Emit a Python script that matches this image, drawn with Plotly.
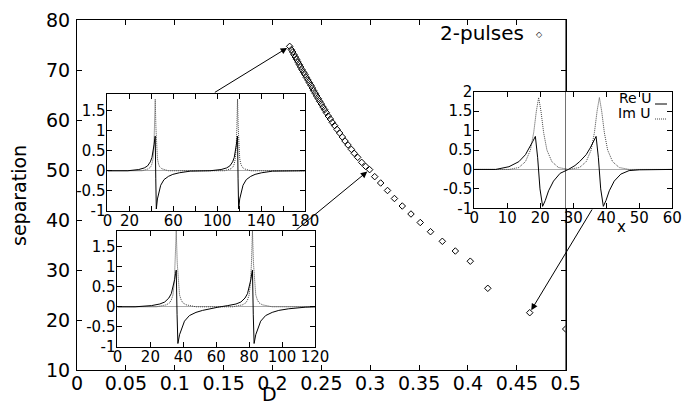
import plotly.graph_objects as go

# ---------------- main data: separation vs D (2-pulse solutions) ----------------
D_vals = [0.2176, 0.2193, 0.2207, 0.2220, 0.2234, 0.2247, 0.2261, 0.2275, 0.2288, 0.2302,
          0.2319, 0.2333, 0.2346, 0.2363, 0.2377, 0.2394, 0.2408, 0.2421, 0.2438, 0.2452,
          0.2469, 0.2483, 0.2500, 0.2517, 0.2534, 0.2551, 0.2571, 0.2592, 0.2612, 0.2636,
          0.2660, 0.2687, 0.2715, 0.2742, 0.2773, 0.2807, 0.2837, 0.2872, 0.2913, 0.2953,
          0.2994, 0.3046, 0.3107, 0.3177, 0.3248, 0.3328, 0.3417, 0.3512, 0.3617, 0.3738,
          0.3871, 0.4024, 0.4203, 0.4632, 0.5000]
sep_vals = [74.73, 74.07, 73.60, 73.07, 72.60, 72.13, 71.60, 71.07, 70.60, 70.07,
            69.53, 69.07, 68.53, 68.00, 67.47, 66.93, 66.40, 65.87, 65.33, 64.80,
            64.27, 63.73, 63.20, 62.60, 62.07, 61.47, 60.80, 60.20, 59.53, 58.87,
            58.13, 57.40, 56.60, 55.80, 55.00, 54.13, 53.33, 52.53, 51.53, 50.73,
            50.07, 48.67, 47.40, 45.90, 44.30, 42.80, 41.20, 39.50, 37.66, 35.74,
            33.80, 31.76, 26.34, 21.46, 18.20]
main_xticks = [0, 0.05, 0.1, 0.15, 0.2, 0.25, 0.3, 0.35, 0.4, 0.45, 0.5]
main_xticktext = ["0", "0.05", "0.1", "0.15", "0.2", "0.25", "0.3", "0.35", "0.4", "0.45", "0.5"]
main_yticks = [10, 20, 30, 40, 50, 60, 70, 80]

# indices of the points the inset arrows point to
arrow_targets = [0, 40, 53]

# ---------------- inset 1 (separation ~75) ----------------
in1_re_x = [0, 18.5, 28.5, 33.5, 36.5, 39, 40.5, 41.7, 42.5, 43.1, 43.5, 44, 44.5, 45.5, 47, 48.5,
            51.5, 55.5, 59.5, 65.5, 75.5,
            93.5, 103.5, 108.5, 111.5, 114, 115.5, 116.7, 117.5, 118.1, 118.5, 119, 119.5, 120.5,
            122, 123.5, 126.5, 130.5, 134.5, 140.5, 150.5, 180]
in1_re_y = [0, 0, 0.03, 0.07, 0.12, 0.22, 0.33, 0.5, 0.66, 0.8, 0.86, -0.2, -0.95, -0.7, -0.5, -0.36,
            -0.22, -0.14, -0.09, -0.05, -0.01,
            0, 0.03, 0.07, 0.12, 0.22, 0.33, 0.5, 0.66, 0.8, 0.86, -0.2, -0.95, -0.7,
            -0.5, -0.36, -0.22, -0.14, -0.09, -0.05, -0.01, 0]
in1_im_x = [0, 31.5, 37.5, 39.5, 40.5, 41.5, 42.3, 42.9, 43.5, 44.1, 44.7, 45.5, 46.5, 47.5, 49.5, 55.5,
            106.5, 112.5, 114.5, 115.5, 116.5, 117.3, 117.9, 118.5, 119.1, 119.7, 120.5, 121.5,
            122.5, 124.5, 130.5, 180]
in1_im_y = [0, 0, 0.05, 0.1, 0.17, 0.3, 0.6, 1.1, 1.78, 1.1, 0.6, 0.3, 0.17, 0.1, 0.05, 0,
            0, 0.05, 0.1, 0.17, 0.3, 0.6, 1.1, 1.78, 1.1, 0.6, 0.3, 0.17,
            0.1, 0.05, 0, 0]
in1_xticks = [0, 20, 40, 60, 80, 100, 120, 140, 160, 180]
in1_xticktext = ["0", "20", "", "60", "", "100", "", "140", "", "180"]

# ---------------- inset 2 (separation ~50) ----------------
in2_re_x = [0, 10.7, 20.7, 25.7, 28.7, 31.2, 32.7, 33.9, 34.7, 35.3, 35.7, 36.2, 36.7, 37.7, 39.2,
            40.7, 43.7, 47.7, 51.7, 56, 61, 67, 72,
            75, 77.5, 79, 80.2, 81, 81.6, 82, 82.5, 83, 84, 85.5, 87, 90, 94, 98, 104, 114, 120]
in2_re_y = [0, 0, 0.03, 0.07, 0.12, 0.22, 0.33, 0.5, 0.68, 0.84, 0.92, -0.2, -0.92, -0.7, -0.5,
            -0.36, -0.22, -0.14, -0.09, -0.05, -0.01, 0.03, 0.07,
            0.12, 0.22, 0.33, 0.5, 0.68, 0.84, 0.92, -0.2, -0.92, -0.7, -0.5, -0.36, -0.22, -0.14,
            -0.09, -0.05, -0.01, 0]
in2_im_x = [0, 23.7, 29.7, 31.7, 32.7, 33.7, 34.5, 35.1, 35.7, 36.3, 36.9, 37.7, 38.7, 39.7, 41.7, 47.7,
            70, 76, 78, 79, 80, 80.8, 81.4, 82, 82.6, 83.2, 84, 85, 86, 88, 94, 120]
in2_im_y = [0, 0, 0.05, 0.1, 0.17, 0.3, 0.6, 1.1, 1.9, 1.1, 0.6, 0.3, 0.17, 0.1, 0.05, 0,
            0, 0.05, 0.1, 0.17, 0.3, 0.6, 1.1, 1.9, 1.1, 0.6, 0.3, 0.17, 0.1, 0.05, 0, 0]
in2_xticks = [0, 20, 40, 60, 80, 100, 120]

# ---------------- inset 3 (separation ~21) ----------------
in3_re_x = [0, 6.5, 10.5, 13.5, 15.5, 16.7, 17.7, 18.5, 19.2, 19.9, 20.7, 21.5, 22.5, 24, 26, 28.5,
            30.5, 31.9, 33.9, 35.1, 36.1, 36.9, 37.6, 38.3, 39.1, 39.9, 40.9, 42.4, 44.4, 46.9, 50, 60]
in3_re_y = [0, 0, 0.07, 0.2, 0.38, 0.55, 0.72, 0.85, 0.3, -0.5, -0.95, -0.8, -0.55, -0.3, -0.1, 0,
            0.1, 0.2, 0.38, 0.55, 0.72, 0.85, 0.3, -0.5, -0.95, -0.8, -0.55, -0.3, -0.12, -0.03, -0.01, 0]
in3_im_x = [0, 10.5, 13.5, 15.5, 17, 18, 18.8, 19.5, 20.2, 21, 22, 23.5, 25.5, 28.5,
            31.9, 33.9, 35.4, 36.4, 37.2, 37.9, 38.6, 39.4, 40.4, 41.9, 43.9, 46.9, 60]
in3_im_y = [0, 0, 0.05, 0.2, 0.5, 0.95, 1.5, 1.85, 1.5, 0.95, 0.5, 0.2, 0.05, 0,
            0.05, 0.2, 0.5, 0.95, 1.5, 1.85, 1.5, 0.95, 0.5, 0.2, 0.05, 0, 0]
in3_xticks = [0, 10, 20, 30, 40, 50, 60]

inset_yticks = [-1, -0.5, 0, 0.5, 1, 1.5]
inset_yticktext = ["-1", "-0.5", "0", "0.5", "1", "1.5"]
in3_yticks = [-1, -0.5, 0, 0.5, 1, 1.5, 2]
in3_yticktext = ["-1", "-0.5", "0", "0.5", "1", "1.5", "2"]

FONT = "DejaVu Sans"
RE_LINE = dict(color="black", width=1)
IM_LINE = dict(color="#444444", width=1, dash="1px,1px")

fig = go.Figure()
fig.add_trace(go.Scatter(x=D_vals, y=sep_vals, mode="markers", xaxis="x", yaxis="y",
                         marker=dict(symbol="diamond-open", size=5, color="black",
                                     line=dict(width=1, color="black"))))
for xa, ya, rx, ry, ix, iy in [("x2", "y2", in1_re_x, in1_re_y, in1_im_x, in1_im_y),
                               ("x3", "y3", in2_re_x, in2_re_y, in2_im_x, in2_im_y),
                               ("x4", "y4", in3_re_x, in3_re_y, in3_im_x, in3_im_y)]:
    fig.add_trace(go.Scatter(x=ix, y=iy, mode="lines", line=IM_LINE, xaxis=xa, yaxis=ya))
    fig.add_trace(go.Scatter(x=rx, y=ry, mode="lines", line=RE_LINE, xaxis=xa, yaxis=ya))


def ax(**kw):
    base = dict(showline=True, linecolor="black", linewidth=1, mirror="ticks",
                ticks="inside", ticklen=5, tickwidth=1, tickcolor="black",
                showgrid=False, zeroline=False, fixedrange=True, automargin=False,
                tickangle=0)
    base.update(kw)
    return base


main_font = dict(family=FONT, size=19, color="black")
ins_font = dict(family=FONT, size=15, color="black")
leg_font = dict(family=FONT, size=14, color="black")

fig.update_layout(
    template="none",
    width=685, height=401,
    margin=dict(l=77, r=10, t=20, b=31),
    paper_bgcolor="white", plot_bgcolor="white",
    showlegend=False,
    font=dict(family=FONT, color="black"),
    xaxis=ax(domain=[0, 0.8172], range=[0, 0.5], anchor="y",
             tickvals=main_xticks, ticktext=main_xticktext, tickfont=main_font,
             ticklabelstandoff=-4),
    yaxis=ax(domain=[0, 1], range=[10, 80], anchor="x",
             tickvals=main_yticks, tickfont=main_font, ticklabelstandoff=2),
    xaxis2=ax(domain=[0.0510, 0.3813], range=[0, 180], anchor="y2",
              tickvals=in1_xticks, ticktext=in1_xticktext, tickfont=ins_font,
              ticklabelstandoff=-4),
    yaxis2=ax(domain=[0.4543, 0.7877], range=[-1, 1.9], anchor="x2",
              tickvals=inset_yticks, ticktext=inset_yticktext, tickfont=ins_font,
              zeroline=True, zerolinecolor="#aaaaaa", zerolinewidth=1,
              ticklabelstandoff=-2),
    xaxis3=ax(domain=[0.0677, 0.3980], range=[0, 120], anchor="y3",
              tickvals=in2_xticks, tickfont=ins_font, ticklabelstandoff=-4),
    yaxis3=ax(domain=[0.0666, 0.3971], range=[-1, 1.9], anchor="x3",
              tickvals=inset_yticks, ticktext=inset_yticktext, tickfont=ins_font,
              zeroline=True, zerolinecolor="#aaaaaa", zerolinewidth=1,
              ticklabelstandoff=-2),
    xaxis4=ax(domain=[0.6644, 0.9955], range=[0, 60], anchor="y4",
              tickvals=in3_xticks, tickfont=ins_font, ticklabelstandoff=-4),
    yaxis4=ax(domain=[0.4620, 0.7951], range=[-1, 2], anchor="x4",
              tickvals=in3_yticks, ticktext=in3_yticktext, tickfont=ins_font,
              zeroline=True, zerolinecolor="#aaaaaa", zerolinewidth=1,
              ticklabelstandoff=-2),
)

# main frame right border drawn over the third inset
fig.add_shape(type="line", xref="x", yref="y domain", x0=0.5, x1=0.5, y0=0, y1=1,
              line=dict(color="black", width=1), layer="above")

# legend samples for inset 3
fig.add_shape(type="line", xref="paper", yref="paper", x0=0.9666, x1=0.9866, y0=0.7600, y1=0.7600,
              line=dict(color="black", width=1), layer="above")
fig.add_shape(type="line", xref="paper", yref="paper", x0=0.9666, x1=0.9866, y0=0.7171, y1=0.7171,
              line=dict(color="#444444", width=1, dash="1px,1px"), layer="above")

annotations = [
    dict(text="D", xref="paper", yref="paper", x=0.3227, y=-0.068, showarrow=False,
         xanchor="center", yanchor="middle", font=main_font),
    dict(text="separation", xref="paper", yref="paper", x=-0.097, y=0.5, showarrow=False,
         textangle=-90, xanchor="center", yanchor="middle", font=main_font),
    dict(text="2-pulses", xref="paper", yref="paper", x=0.7508, y=0.963, showarrow=False,
         xanchor="right", yanchor="middle", font=dict(family=FONT, size=20, color="black")),
    dict(text="◇", xref="paper", yref="paper", x=0.7726, y=0.959, showarrow=False,
         xanchor="center", yanchor="middle", font=dict(family=FONT, size=8, color="black")),
    dict(text="x", xref="paper", yref="paper", x=0.9109, y=0.4086, showarrow=False,
         xanchor="center", yanchor="middle", font=ins_font),
    dict(text="Re U", xref="paper", yref="paper", x=0.9632, y=0.7763, showarrow=False,
         xanchor="right", yanchor="middle", font=leg_font),
    dict(text="Im U", xref="paper", yref="paper", x=0.9615, y=0.7337, showarrow=False,
         xanchor="right", yanchor="middle", font=leg_font),
]
arrow_tails = [(0.1395, 65.34), (0.2230, 37.8), (0.5279, 42.4)]
for idx, (tx, ty) in zip(arrow_targets, arrow_tails):
    annotations.append(dict(text="", x=D_vals[idx], y=sep_vals[idx], xref="x", yref="y",
                            ax=tx, ay=ty, axref="x", ayref="y", showarrow=True,
                            arrowhead=2, arrowsize=1.3, arrowwidth=1, arrowcolor="black",
                            standoff=3))
fig.update_layout(annotations=annotations)

fig.write_html("out.html", config={"displayModeBar": False},
               post_script="document.body.style.margin='0px';document.body.style.overflow='hidden';")
